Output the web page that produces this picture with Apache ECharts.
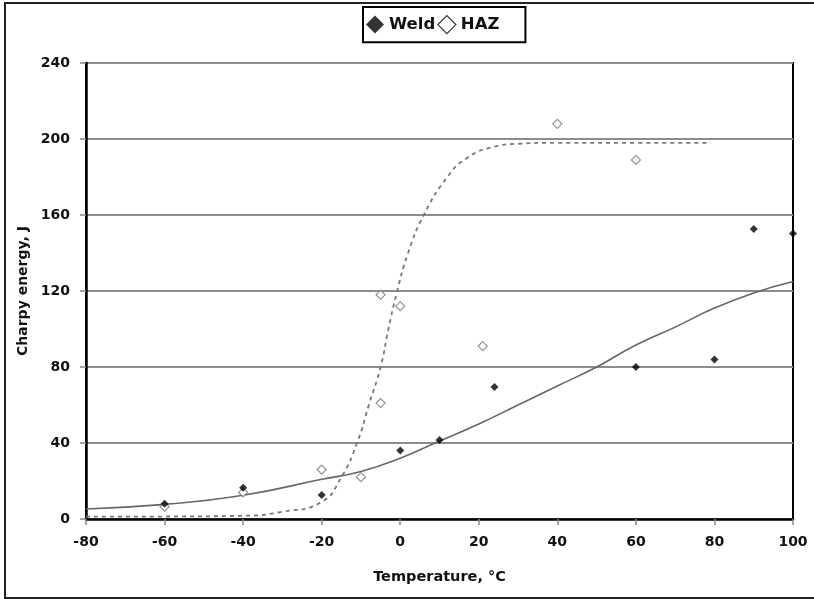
<!DOCTYPE html>
<html>
<head>
<meta charset="utf-8">
<script src="https://cdn.jsdelivr.net/npm/echarts@6/dist/echarts.min.js"></script>
<style>
  html, body { margin: 0; padding: 0; background: #fff; }
  #chart { width: 814px; height: 599px; }
</style>
</head>
<body>
<div id="chart"></div>
<script>
// measured points
const weldPoints = [[-60, 8], [-40, 16.5], [-20, 12.6], [0, 36], [10, 41.6], [24, 69.5], [60, 80], [80, 84], [90, 152.6], [100, 150.3]];
const hazPoints = [[-60, 6.5], [-40, 14], [-20, 26], [-10, 22], [-5, 118], [-5, 61], [0, 112], [21, 91], [40, 208], [60, 189]];

// fitted curves
const weldFit = [[-80, 5.3], [-60, 7.7], [-40, 12.5], [-20, 20.9], [-10, 25], [0, 32], [10, 41], [20, 50], [30, 60], [40, 70], [50, 80], [60, 91.6], [70, 101], [80, 111], [90, 119], [100, 125]];
const hazFit = [[-80, 1.2], [-60, 1.3], [-40, 1.7], [-30, 3.8], [-20, 9], [-15, 22], [-11, 40], [-8, 60], [-5, 80], [-3, 100], [-1, 118], [2, 140], [6, 160], [12, 180], [17, 190], [24, 196], [30, 197.5], [40, 198], [60, 198], [79, 198]];

const xTicks = { min: -80, max: 100, step: 20 };
const yTicks = { min: 0, max: 240, step: 40 };

const font = 'DejaVu Sans';
let mychart = echarts.init(document.getElementById('chart'));
let options = {
  animation: false,
  graphic: [{
    type: 'rect',
    shape: { x: 5, y: 3, width: 830, height: 595 },
    style: { fill: 'none', stroke: '#222', lineWidth: 2 },
    silent: true
  }],
  legend: {
    top: 7,
    left: 363,
    data: [
      { name: 'Weld', icon: 'diamond', itemStyle: { color: '#000' } },
      { name: 'HAZ', icon: 'diamond', itemStyle: { color: '#fff', borderColor: '#000', borderWidth: 1.2 } }
    ],
    itemWidth: 18,
    itemHeight: 18,
    itemGap: 2,
    padding: [8, 26, 8, 3],
    borderColor: '#000',
    borderWidth: 2,
    textStyle: { fontFamily: font, fontWeight: 'bold', fontSize: 16.5, color: '#111' }
  },
  grid: {
    left: 86, right: 21, top: 63, bottom: 80,
    show: true,
    borderColor: '#000',
    borderWidth: 2
  },
  xAxis: {
    type: 'value',
    min: xTicks.min, max: xTicks.max, interval: xTicks.step,
    name: 'Temperature, °C',
    nameLocation: 'middle',
    nameGap: 51,
    nameTextStyle: { fontFamily: font, fontWeight: 'bold', fontSize: 14.5, color: '#111' },
    axisLine: { lineStyle: { color: '#000', width: 2.5 } },
    axisTick: { show: true, length: 6, lineStyle: { color: '#888', width: 1.5 } },
    axisLabel: { fontFamily: font, fontWeight: 'bold', fontSize: 14, color: '#111', margin: 16 },
    splitLine: { show: false }
  },
  yAxis: {
    type: 'value',
    min: yTicks.min, max: yTicks.max, interval: yTicks.step,
    name: 'Charpy energy, J',
    nameLocation: 'middle',
    nameGap: 56,
    nameTextStyle: { fontFamily: font, fontWeight: 'bold', fontSize: 14, color: '#111' },
    axisLine: { onZero: false, lineStyle: { color: '#000', width: 2.5 } },
    axisTick: { show: true, length: 6, lineStyle: { color: '#888', width: 1.5 } },
    axisLabel: { fontFamily: font, fontWeight: 'bold', fontSize: 14, color: '#111', margin: 16 },
    splitLine: { show: true, lineStyle: { color: '#8c8c8c', width: 2 } }
  },
  series: [
    {
      name: 'Weld fit',
      type: 'line',
      data: weldFit,
      smooth: true,
      showSymbol: false,
      lineStyle: { color: '#666', width: 1.6 },
      z: 2
    },
    {
      name: 'HAZ fit',
      type: 'line',
      data: hazFit,
      smooth: true,
      showSymbol: false,
      lineStyle: { color: '#777', width: 1.8, type: [4, 4] },
      z: 2
    },
    {
      name: 'HAZ',
      type: 'scatter',
      data: hazPoints,
      symbol: 'diamond',
      symbolSize: 9,
      itemStyle: { color: '#fff', borderColor: '#777', borderWidth: 1.2 },
      z: 3
    },
    {
      name: 'Weld',
      type: 'scatter',
      data: weldPoints,
      symbol: 'diamond',
      symbolSize: 8,
      itemStyle: { color: '#000' },
      z: 4
    }
  ]
};
mychart.setOption(options);
</script>
</body>
</html>
